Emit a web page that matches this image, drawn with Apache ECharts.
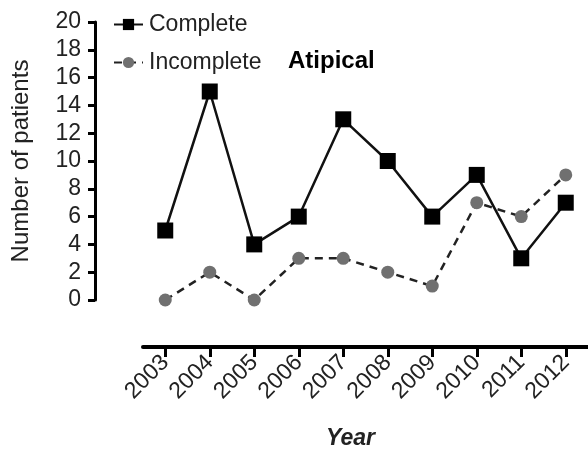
<!DOCTYPE html>
<html>
  <head>
    <meta charset="UTF-8">
    <script src="https://cdn.jsdelivr.net/npm/echarts@6/dist/echarts.min.js"></script>
    <title>Patients per year</title>
  </head>
  <body style="margin:0">
    <div id="main" style="width: 588px;height:451px;"></div>
    <script type="text/javascript">
      var years = ['2003', '2004', '2005', '2006', '2007', '2008', '2009', '2010', '2011', '2012'];
      var complete = [5, 15, 4, 6, 13, 10, 6, 9, 3, 7];
      var incomplete = [0, 2, 0, 3, 3, 2, 1, 7, 6, 9];

      var font = 'Liberation Sans, Arial, sans-serif';
      var myChart = echarts.init(document.getElementById('main'));

      var option = {
          animation: false,
          textStyle: { fontFamily: font },
          graphic: [{
            type: 'text',
            left: 288,
            top: 49,
            style: { text: 'Atipical', fontSize: 24, fontWeight: 'bold', fill: '#000', fontFamily: font }
          }],
          legend: {
            orient: 'vertical',
            left: 108,
            top: 8,
            itemGap: 15,
            itemWidth: 29,
            itemHeight: 14,
            textStyle: { fontSize: 23, color: '#222', fontFamily: font, padding: [0, 0, 0, 1] },
            data: ['Complete', 'Incomplete']
          },
          grid: {
            left: 143,
            right: 0,
            top: 22,
            bottom: 151,
            outerBoundsMode: 'none'
          },
          xAxis: {
            type: 'category',
            data: years,
            offset: 47,
            name: 'Year',
            nameLocation: 'middle',
            nameGap: 80,
            nameTextStyle: { fontSize: 23, fontWeight: 'bold', fontStyle: 'italic', color: '#222', padding: [0, 30, 0, 0] },
            axisLine: { onZero: false, lineStyle: { color: '#000', width: 4 } },
            axisTick: { show: true, alignWithLabel: true, length: 10, lineStyle: { width: 3, color: '#000' } },
            axisLabel: { rotate: 45, fontSize: 23, color: '#222', margin: 12 }
          },
          yAxis: {
            type: 'value',
            min: 0,
            max: 20,
            interval: 2,
            offset: 48,
            name: 'Number of patients',
            nameLocation: 'middle',
            nameGap: 62,
            nameTextStyle: { fontSize: 24, color: '#222' },
            axisLine: { show: true, lineStyle: { color: '#000', width: 3 } },
            axisTick: { show: true, length: 7, lineStyle: { width: 3, color: '#000' } },
            axisLabel: { fontSize: 23, color: '#222', margin: 14 },
            splitLine: { show: false }
          },
          series: [{
            name: 'Complete',
            type: 'line',
            data: complete,
            symbol: 'rect',
            symbolSize: 16,
            clip: false,
            itemStyle: { color: '#000' },
            lineStyle: { color: '#111', width: 2.5 }
          }, {
            name: 'Incomplete',
            type: 'line',
            data: incomplete,
            symbol: 'circle',
            symbolSize: 13,
            clip: false,
            itemStyle: { color: '#707070' },
            lineStyle: { color: '#222', width: 2.5, type: [8, 6] }
          }]
      };

      myChart.setOption(option);
    </script>
  </body>
</html>
